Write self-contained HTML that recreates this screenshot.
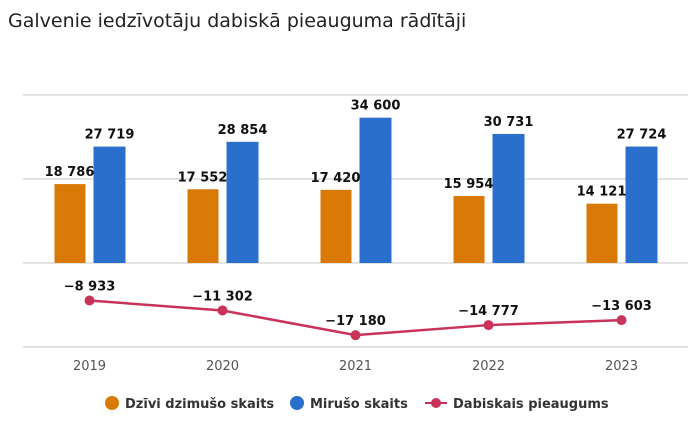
<!DOCTYPE html>
<html><head><meta charset="utf-8"><style>
body{margin:0;background:#fff;font-family:"Liberation Sans","DejaVu Sans",sans-serif;}
svg text{font-family:"DejaVu Sans","Liberation Sans",sans-serif;}
</style></head><body>
<svg id="chart" width="700" height="430" xmlns="http://www.w3.org/2000/svg">
<text x="8" y="27" font-size="19" fill="#222" style="font-family:'DejaVu Sans',sans-serif">Galvenie iedzīvotāju dabiskā pieauguma rādītāji</text>
<g id="grid"></g><g id="bars"></g><g id="line"></g><g id="labels"></g>
<g>
<g><circle cx="112" cy="403" r="7" fill="#d97a06"/><text x="125" y="408" font-size="13" font-weight="bold" fill="#333">Dzīvi dzimušo skaits</text></g>
<g><circle cx="297" cy="403" r="7" fill="#2a6fcb"/><text x="310" y="408" font-size="13" font-weight="bold" fill="#333">Mirušo skaits</text></g>
<g><line x1="425" y1="403" x2="447" y2="403" stroke="#c9335a" stroke-width="2"/><circle cx="436" cy="403" r="5" fill="#c9335a"/><text x="453" y="408" font-size="13" font-weight="bold" fill="#333">Dabiskais pieaugums</text></g>
</g>
</svg>
<script>
const categories=["2019","2020","2021","2022","2023"];
const births=[18786,17552,17420,15954,14121];
const deaths=[27719,28854,34600,30731,27724];
const increase=[-8933,-11302,-17180,-14777,-13603];
const gridTicks=[40000,20000,0,-20000];
const NS="http://www.w3.org/2000/svg";
const x0=23,band=133,y0=263,k=84/20000;
const y=v=>y0-v*k;
const cx=i=>x0+band*i+band/2;
const fmt=v=>(v<0?"−":"")+Math.abs(v).toString().replace(/\B(?=(\d{3})+(?!\d))/g," ");
function mk(tag,attrs,parent,text){const e=document.createElementNS(NS,tag);for(const a in attrs)e.setAttribute(a,attrs[a]);if(text!==undefined)e.textContent=text;document.getElementById(parent).appendChild(e);return e;}
gridTicks.forEach(t=>{const l=mk("line",{x1:x0,x2:x0+band*5,y1:y(t),y2:y(t),stroke:"#e3e3e3","stroke-width":2},"grid");

});
categories.forEach((c,i)=>{
const t=mk("text",{x:cx(i),y:370,"text-anchor":"middle","font-size":13,fill:"#555"},"labels",c);


const b=mk("rect",{x:cx(i)-35,y:y(births[i]),width:31,height:y0-y(births[i]),fill:"#d97a06"},"bars");


const d=mk("rect",{x:cx(i)+4,y:y(deaths[i]),width:32,height:y0-y(deaths[i]),fill:"#2a6fcb"},"bars");


const lb=mk("text",{x:cx(i)-20,y:y(births[i])-8,"text-anchor":"middle","font-size":13,"font-weight":"bold",fill:"#111"},"labels",fmt(births[i]));


const ld=mk("text",{x:cx(i)+20,y:y(deaths[i])-8,"text-anchor":"middle","font-size":13,"font-weight":"bold",fill:"#111"},"labels",fmt(deaths[i]));


const li=mk("text",{x:cx(i),y:y(increase[i])-10,"text-anchor":"middle","font-size":13,"font-weight":"bold",fill:"#111"},"labels",fmt(increase[i]));


});
const p=mk("polyline",{points:increase.map((v,i)=>cx(i)+","+y(v)).join(" "),fill:"none",stroke:"#c9335a","stroke-width":2.5},"line");


increase.forEach((v,i)=>{const c=mk("circle",{cx:cx(i),cy:y(v),r:5,fill:"#c9335a"},"line");

});
</script>
</body></html>
